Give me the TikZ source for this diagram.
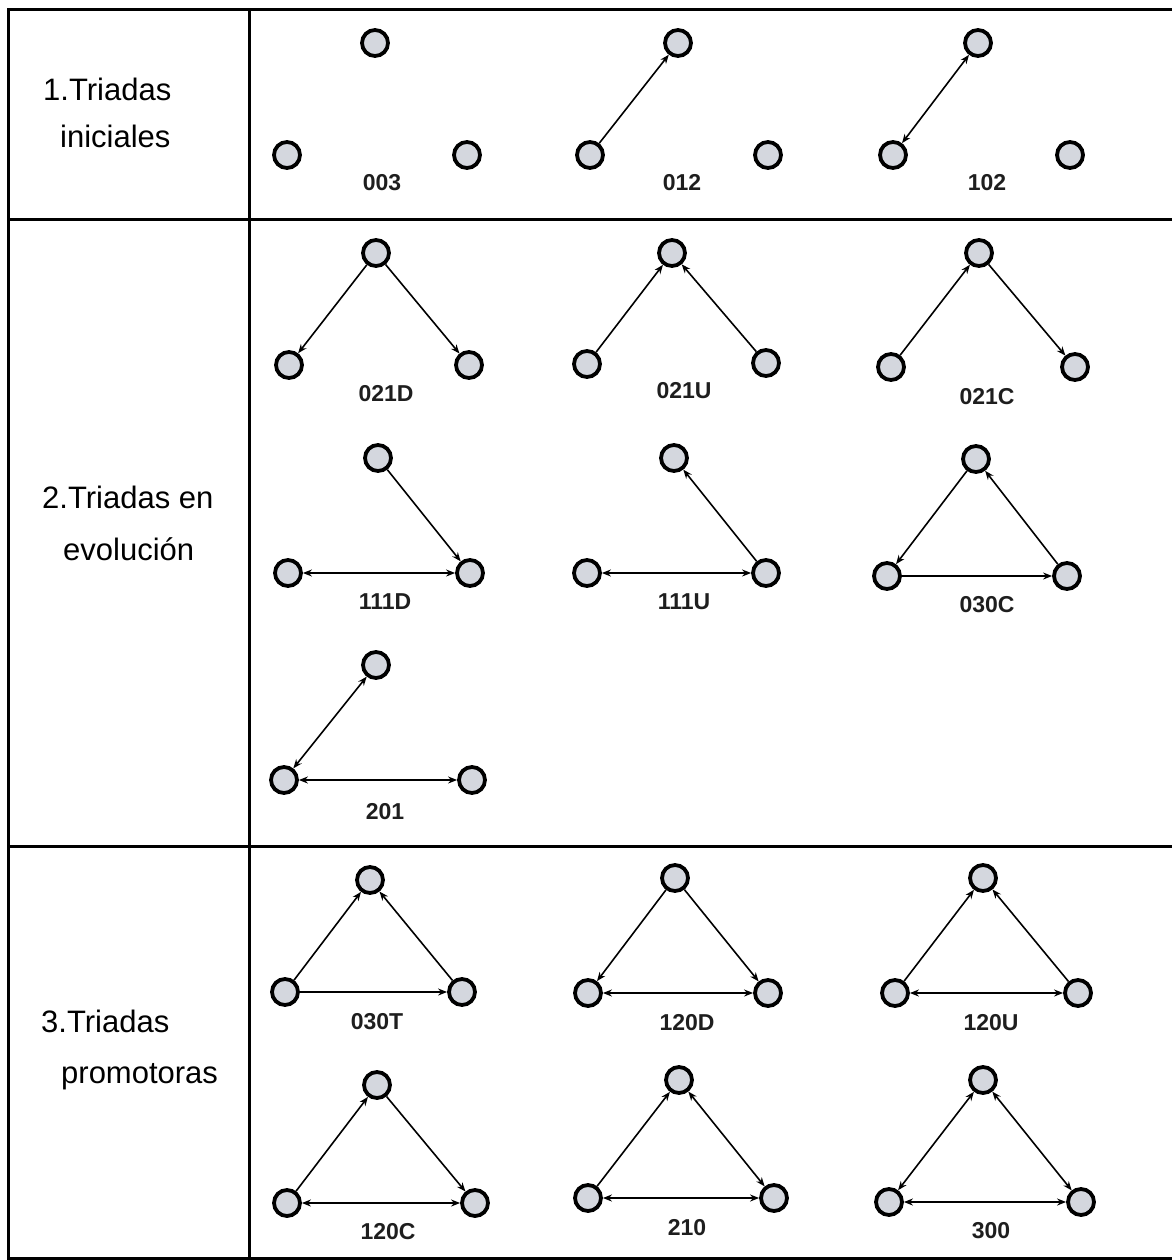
\documentclass[tikz,border=0pt]{standalone}
\usepackage{fontspec}
\setmainfont{Liberation Sans}
\usetikzlibrary{arrows.meta}
\definecolor{vfill}{RGB}{212,215,222}
\definecolor{lblc}{RGB}{30,30,30}
\newcommand\triad[6]{%
  \node[vtx] (#1T) at #2 {};
  \node[vtx] (#1L) at #3 {};
  \node[vtx] (#1R) at #4 {};
  \node[lbl] (#1lab) at #5 {#6};
}
\begin{document}
\begin{tikzpicture}[x=1pt,y=-1pt,
  vtx/.style={circle,draw=black,fill=vfill,line width=3.8pt,minimum size=26pt,inner sep=0pt},
  lbl/.style={font=\fontsize{23}{26}\selectfont\bfseries,text=lblc,inner sep=0pt},
  head/.style={font=\fontsize{31}{37}\selectfont,anchor=base west,inner sep=0pt},
  grid/.style={line width=3pt,line cap=rect},
  one/.style={line width=1.6pt,-{Stealth[length=9pt,width=7pt]}},
  two/.style={line width=1.6pt,{Stealth[length=9pt,width=7pt]}-{Stealth[length=9pt,width=7pt]}}]
\useasboundingbox (0,0) rectangle (1171,1260);
% table
\draw[grid] (8,10) -- (1171,10);
\draw[grid] (8,219) -- (1171,219);
\draw[grid] (8,846) -- (1171,846);
\draw[grid] (8,1258) -- (1171,1258);
\draw[grid] (8,10) -- (8,1258);
\draw[grid] (249,10) -- (249,1258);
% headings
\node[head] (h1a) at (43,101) {1.Triadas};
\node[head] (h1b) at (60,148) {iniciales};
\node[head] (h2a) at (42,508) {2.Triadas en};
\node[head] (h2b) at (63,560) {evolución};
\node[head] (h3a) at (41,1032) {3.Triadas};
\node[head] (h3b) at (61,1083) {promotoras};
% row 1
\triad{a}{(375,43)}{(287,155)}{(467,155)}{(382,183)}{003}
\triad{b}{(678,43)}{(590,155)}{(768,155)}{(682,183)}{012}
\triad{c}{(978,43)}{(893,155)}{(1070,155)}{(987,183)}{102}
\draw[one] (bL) -- (bT);
\draw[two] (cL) -- (cT);
% row 2
\triad{d}{(376,253)}{(289,365)}{(469,365)}{(386,394)}{021D}
\triad{e}{(672,253)}{(587,364)}{(766,363)}{(684,391)}{021U}
\triad{f}{(979,253)}{(891,367)}{(1075,367)}{(987,397)}{021C}
\draw[one] (dT) -- (dL);
\draw[one] (dT) -- (dR);
\draw[one] (eL) -- (eT);
\draw[one] (eR) -- (eT);
\draw[one] (fL) -- (fT);
\draw[one] (fT) -- (fR);
\triad{g}{(378,458)}{(288,573)}{(470,573)}{(385,602)}{111D}
\triad{h}{(674,458)}{(587,573)}{(766,573)}{(684,602)}{111U}
\triad{i}{(976,459)}{(887,576)}{(1067,576)}{(987,605)}{030C}
\draw[two] (gL) -- (gR);
\draw[one] (gT) -- (gR);
\draw[two] (hL) -- (hR);
\draw[one] (hR) -- (hT);
\draw[one] (iT) -- (iL);
\draw[one] (iR) -- (iT);
\draw[one] (iL) -- (iR);
\triad{j}{(376,665)}{(284,780)}{(472,780)}{(385,812)}{201}
\draw[two] (jT) -- (jL);
\draw[two] (jL) -- (jR);
% row 3
\triad{k}{(370,880)}{(285,992)}{(462,992)}{(377,1022)}{030T}
\triad{l}{(675,878)}{(588,993)}{(768,993)}{(687,1023)}{120D}
\triad{m}{(983,878)}{(895,993)}{(1078,993)}{(991,1023)}{120U}
\draw[one] (kL) -- (kT);
\draw[one] (kR) -- (kT);
\draw[one] (kL) -- (kR);
\draw[one] (lT) -- (lL);
\draw[one] (lT) -- (lR);
\draw[two] (lL) -- (lR);
\draw[one] (mL) -- (mT);
\draw[one] (mR) -- (mT);
\draw[two] (mL) -- (mR);
\triad{n}{(377,1085)}{(287,1203)}{(475,1203)}{(388,1232)}{120C}
\triad{o}{(679,1080)}{(588,1198)}{(774,1198)}{(687,1228)}{210}
\triad{p}{(983,1080)}{(889,1202)}{(1081,1202)}{(991,1231)}{300}
\draw[one] (nL) -- (nT);
\draw[one] (nT) -- (nR);
\draw[two] (nL) -- (nR);
\draw[one] (oL) -- (oT);
\draw[two] (oT) -- (oR);
\draw[two] (oL) -- (oR);
\draw[two] (pT) -- (pL);
\draw[two] (pT) -- (pR);
\draw[two] (pL) -- (pR);
\end{tikzpicture}
\end{document}
